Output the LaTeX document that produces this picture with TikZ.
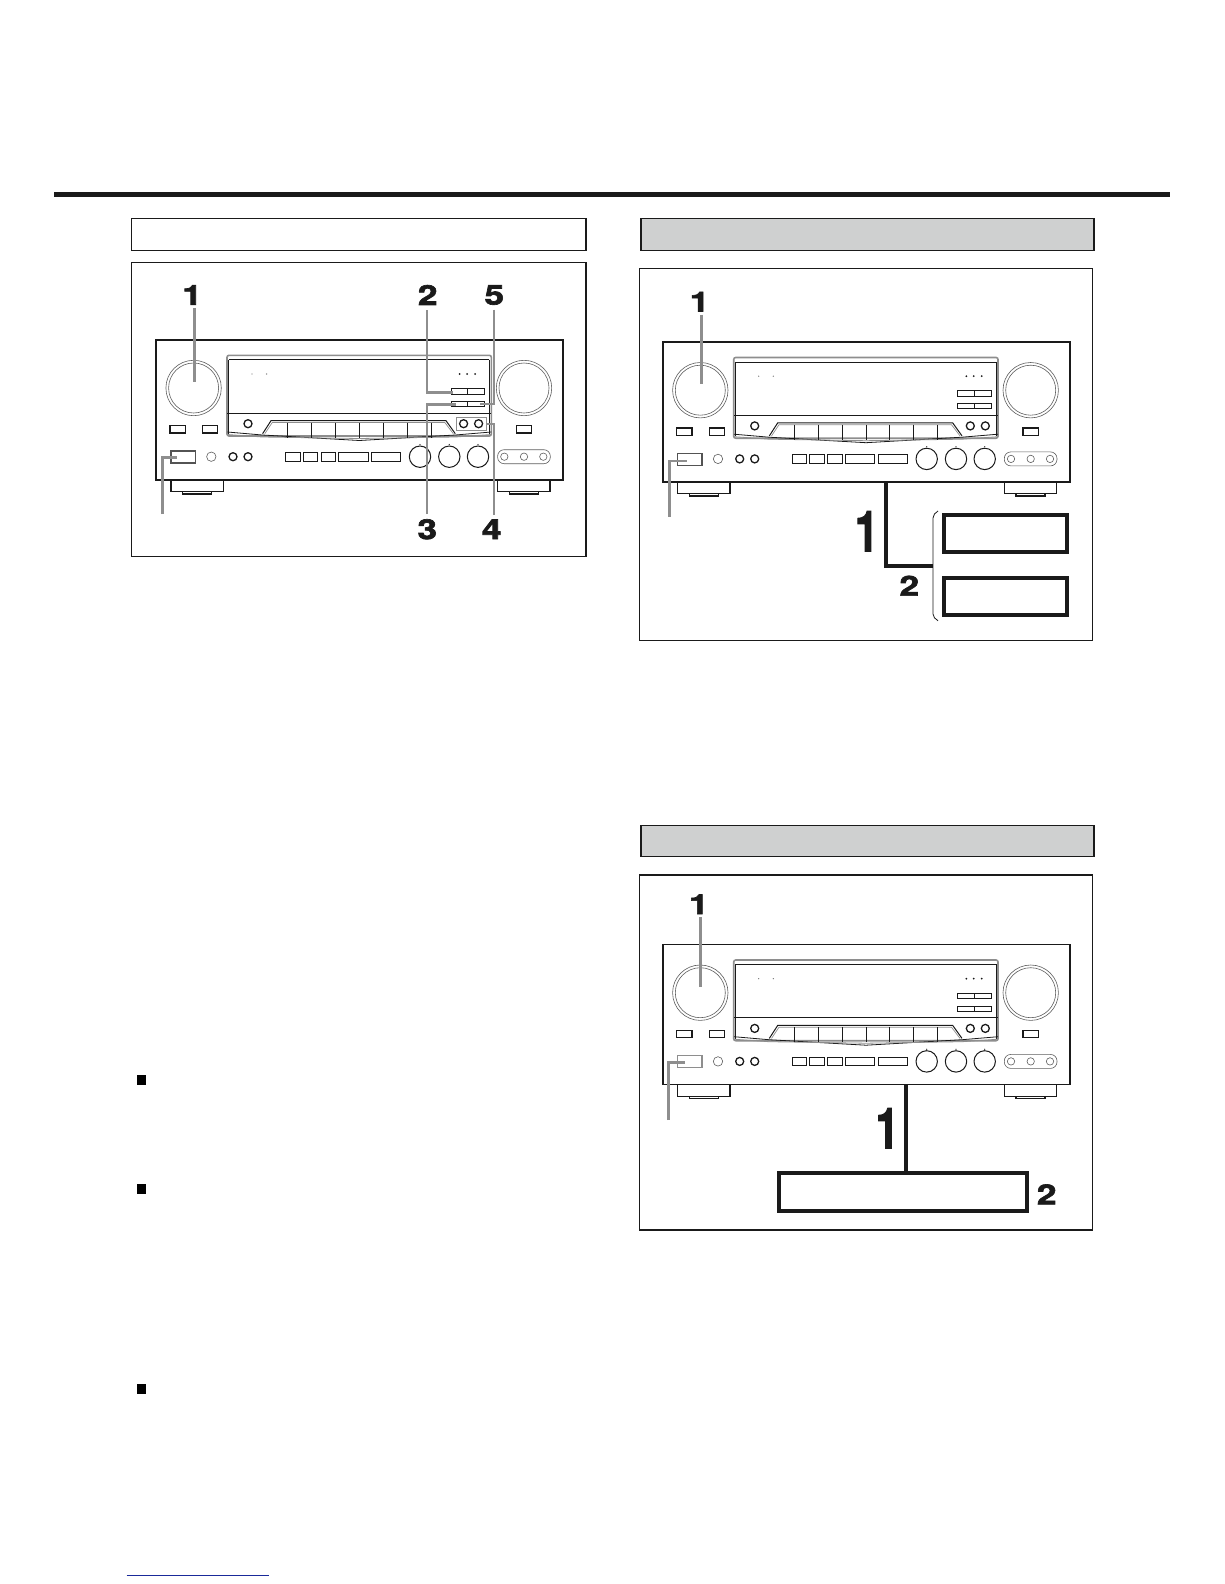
\documentclass[tikz,border=0pt]{standalone}
\usepackage{fontspec}
\usepackage{tikz}
\usetikzlibrary{shapes,arrows,positioning}
\newfontfamily\numfont[FakeStretch=1.28,FakeBold=2.4]{TeX Gyre Heros}
\definecolor{ink}{HTML}{1A1A1A}
\definecolor{headgray}{HTML}{CFD0D0}
\definecolor{callgray}{HTML}{8E8E8E}
\definecolor{rulenavy}{HTML}{1A2A9A}
\tikzset{
    framebox/.style={draw=ink,line width=1.1pt,fill=white},
    headbox/.style={draw=ink,line width=1.1pt,fill=headgray},
    btn/.style={draw=ink,line width=1pt},
    ring/.style={draw=ink,line width=1.3pt},
    thinring/.style={draw=ink!70,line width=0.6pt},
    powerkey/.style={draw=ink!75,line width=1.1pt},
    callout/.style={draw=callgray,line width=2.4pt},
    wire/.style={draw=ink,line width=3.8pt},
    stepnum/.style={font=\numfont\bfseries\fontsize{27.5}{27.5}\selectfont,text=ink,inner sep=0pt},
    talldigit/.style={stepnum,yscale=2.05,xscale=1.2,transform shape},
    bullet/.style={fill=black,inner sep=0pt,minimum width=9pt,minimum height=10pt},
    receiver/.pic={
        % Chassis and feet
        \node[draw=ink,line width=1.6pt,minimum width=407pt,minimum height=140pt,inner sep=0pt,anchor=north west] (-chassis) at (0,0) {};
        \foreach \fx in {15.7,342.3} {
            \draw[line width=1.3pt,draw=ink] (\fx,140.5) rectangle ++(52.4,12);
            \draw[line width=1.3pt,draw=ink] (\fx+11.6,152.5) rectangle ++(29,2.4);
        }
        % Big knobs
        \foreach \kx in {38.3,368.7} {
            \draw[thinring] (\kx,49) circle (27.7);
            \draw[thinring] (\kx,49) circle (25);
        }
        % Display window
        \draw[callgray,line width=1.6pt,rounded corners=2pt] (71.7,16.3) rectangle (336,97);
        \draw[ink,line width=0.7pt] (73.5,20.7) -- (334,20.7) (73.5,20.7) -- (73.5,95) (334,20.7) -- (334,95);
        \draw[ink,line width=0.7pt] (72,74) -- (335.5,74);
        \draw[ink,line width=0.8pt] (72,93) -- (107,96) -- (204,101.5) -- (300,96) -- (336,93);
        \draw[callgray,line width=0.8pt] (72,95.5) -- (107,98) -- (204,99.5) -- (300,98) -- (336,95.5);
        % Soft keys in the window
        \draw[ink,line width=1pt,fill=white] (107.3,94.7) -- (115.7,81.7) -- (290.7,81.7) -- (300,94.7);
        \draw[callgray,line width=0.7pt] (109.5,94.7) -- (117,83.5) -- (289.5,83.5) -- (298,94.7);
        \foreach \dx in {132.3,156.3,180.3,204.3,227.7,251.7,275.7} {
            \draw[ink,line width=0.7pt] (\dx,83.5) -- (\dx,98.5);
        }
        \foreach \dx in {96.7,111.3} {
            \fill[ink!60] (\dx,35) circle (0.7);
        }
        \foreach \dx in {304.3,311.7,319.7} {
            \fill[ink] (\dx,35) circle (1);
        }
        \foreach \ry in {49.7,62.3} {
            \draw[btn] (295.7,\ry) rectangle (329,\ry+5.4);
            \draw[btn] (312,\ry) -- (312,\ry+5.4);
        }
        \foreach \cx in {92.7,308.3,323.3} {
            \draw[ring] (\cx,84.7) circle (4);
        }
        % Small buttons
        \foreach \bx in {14.7,47.3,361} {
            \draw[btn,line width=1.2pt] (\bx,86.7) rectangle ++(15.2,7.3);
        }
        % Lower row
        \draw[powerkey] (15.7,112) rectangle (40,124);
        \draw[thinring] (56,117.7) circle (4.7);
        \foreach \cx in {77.7,92.7} {
            \draw[ring] (\cx,117.7) circle (4);
        }
        \draw[btn] (130,113.7) rectangle (144.7,122);
        \draw[btn] (147.7,113.7) rectangle (162.3,122);
        \draw[btn] (165.7,113.7) rectangle (180,122);
        \draw[btn] (183.3,113.7) rectangle (212.7,122);
        \draw[btn] (216,113.7) rectangle (245.3,122);
        \foreach \kx in {264.7,294,322.7} {
            \draw[ring,line width=1pt] (\kx,117.7) circle (10.7);
            \fill[ink] (\kx,105.5) circle (0.6);
        }
        \draw[thinring,rounded corners=6.5pt] (342.3,110.7) rectangle (395,124.7);
        \foreach \cx in {349,368.7,388} {
            \draw[thinring] (\cx,117.7) circle (3.7);
        }
    }
}

\begin{document}
\begin{tikzpicture}[x=1pt,y=-1pt]
    \useasboundingbox (0,0) rectangle (1224,1584);
    \fill[white] (0,0) rectangle (1224,1584);

    % Top rule and bottom rule
    \fill[ink] (54,192) rectangle (1170,196.8);
    \draw[rulenavy,line width=1.2pt] (126.7,1575.3) -- (269,1575.3);

    % Headers and frames
    \draw[framebox] (131.7,218.5) rectangle (586,250.3);
    \draw[framebox] (131.7,262.7) rectangle (586,556.5);
    \draw[headbox] (641,218.5) rectangle (1094,250.3);
    \draw[framebox] (639.5,268.3) rectangle (1092.7,640.7);
    \draw[headbox] (641,825.7) rectangle (1094,856.5);
    \draw[framebox] (639.5,875) rectangle (1092.7,1230);

    % Text bullets
    \node[bullet] (marka) at (141.5,1080) {};
    \node[bullet] (markb) at (141.5,1189) {};
    \node[bullet] (markc) at (141.5,1389) {};

    % Receiver with all steps
    \pic (rcva) at (155.3,339) {receiver};
    \draw[callgray,line width=1pt] (456.6,417) rectangle (486,430.3);
    \node[stepnum] (a1) at (192.2,295) {1};
    \node[stepnum] (a2) at (427.7,295) {2};
    \node[stepnum] (a5) at (494.3,295) {5};
    \node[stepnum] (a3) at (427.3,529.3) {3};
    \node[stepnum] (a4) at (491.7,529.3) {4};
    \coordinate (a1end) at (194.3,381.7);
    \coordinate (a2end) at (453,392.3);
    \coordinate (a3end) at (456,404.3);
    \coordinate (a4end) at (487,424);
    \coordinate (a5end) at (480,404);
    \coordinate (a6end) at (176.7,457.3);
    \coordinate (a6start) at (162.3,514);
    \draw[callout] (a1end |- a1.south) ++(0,3) -- (a1end);
    \draw[callout] (426.7,310) |- (a2end);
    \draw[callout] (426.7,514) |- (a3end);
    \draw[callout] (494,515) |- (a4end);
    \draw[callout] (494,309.5) |- (a5end);
    \draw[callout] (a6start) |- (a6end);

    % Receiver with two boxes
    \pic (rcvb) at (662,341.2) {receiver};
    \node[stepnum] (b1) at (699.5,301.7) {1};
    \coordinate (b1end) at (701.3,384.3);
    \coordinate (b6end) at (686.7,460.7);
    \coordinate (b6start) at (669.3,516.7);
    \draw[callout] (b1end |- b1.south) ++(0,3) -- (b1end);
    \draw[callout] (b6start) |- (b6end);
    \node[draw=ink,line width=4pt,minimum width=123pt,minimum height=37pt,inner sep=0pt] (boxb1) at (1005.5,533.8) {};
    \node[draw=ink,line width=4pt,minimum width=123pt,minimum height=37pt,inner sep=0pt] (boxb2) at (1005.5,596.8) {};
    \coordinate (b7start) at (885.7,482);
    \coordinate (b7end) at (933.3,566);
    \draw[wire] (b7start) |- (b7end);
    \draw[ink,line width=0.8pt] (938,511) to[out=215,in=90] (933,518) -- (933,614) to[out=-90,in=145] (938,620.7);
    \node[talldigit] (b1big) at (866.7,531.3) {1};
    \node[stepnum] (b2) at (909.3,585.7) {2};

    % Receiver with one box
    \pic[powerkey/.append style={draw=callgray}] (rcvc) at (662,943.7) {receiver};
    \node[stepnum] (c1) at (698.8,904.3) {1};
    \coordinate (c1end) at (700.3,987.3);
    \coordinate (c6end) at (685,1062.3);
    \coordinate (c6start) at (668.3,1120);
    \draw[callout] (c1end |- c1.south) ++(0,3) -- (c1end);
    \draw[callout] (c6start) |- (c6end);
    \node[draw=ink,line width=4pt,minimum width=248pt,minimum height=37.4pt,inner sep=0pt] (boxc) at (903,1192) {};
    \coordinate (c7start) at (906,1085);
    \draw[wire] (c7start) -- (c7start |- boxc.north);
    \node[talldigit] (c1big) at (887.3,1128.3) {1};
    \node[stepnum] (c2) at (1046.7,1194.3) {2};
\end{tikzpicture}
\end{document}
